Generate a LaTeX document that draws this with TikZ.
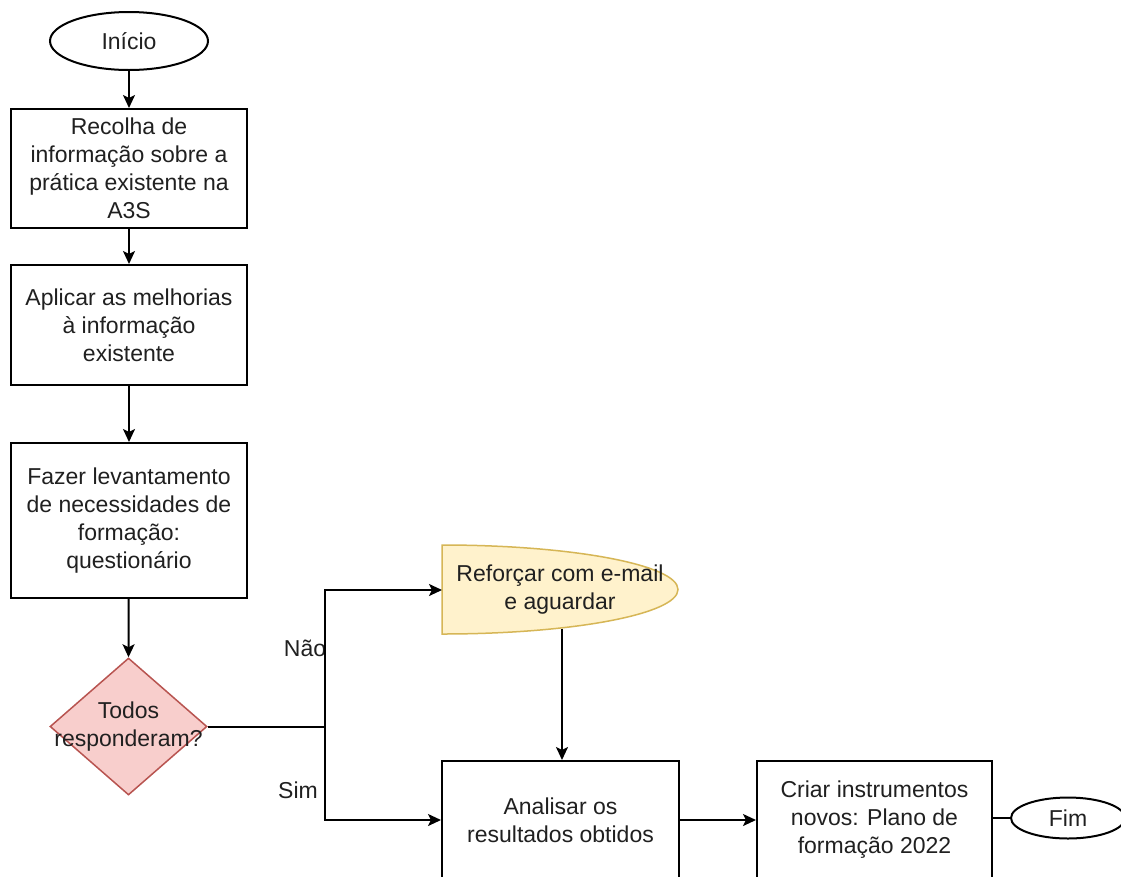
\documentclass[tikz,border=0pt]{standalone}
\usepackage{fontspec}
\setmainfont{Liberation Sans}
\usetikzlibrary{shapes.geometric,arrows.meta}
\definecolor{txt}{HTML}{202020}
\definecolor{redfill}{HTML}{F8CECC}
\definecolor{redline}{HTML}{B85450}
\definecolor{yelfill}{HTML}{FFF2CC}
\definecolor{yelline}{HTML}{D6B656}
\tikzset{
  base/.style={line width=2pt, draw=black, text=txt, font=\fontsize{23}{28}\selectfont, align=center, inner sep=0pt},
  procbox/.style={base, rectangle, fill=white},
  term/.style={base, ellipse, fill=white},
  lbl/.style={text=txt, font=\fontsize{23}{28}\selectfont, align=center, inner sep=0pt},
  conn/.style={line width=2pt, draw=black},
  arr/.style={conn, -{Stealth[length=13pt,width=12pt,inset=3pt]}},
}
\begin{document}
\begin{tikzpicture}[x=1pt,y=-1pt]
\clip (0,0) rectangle (1121,876);
\fill[white] (0,0) rectangle (1121,876);

% nodes
\node[term, minimum width=158pt, minimum height=58pt] (inicio) at (129,41) {Início};
\node[procbox, minimum width=236pt, minimum height=119pt] (box1) at (129,168.5)
  {Recolha de\\informação sobre a\\prática existente na\\A3S};
\node[procbox, minimum width=236pt, minimum height=120pt] (box2) at (129,325)
  {Aplicar as melhorias\\à informação\\existente};
\node[procbox, minimum width=236pt, minimum height=155pt] (box3) at (129,520.5)
  {Fazer levantamento\\de necessidades de\\formação:\\questionário};
\node[base, diamond, fill=redfill, draw=redline, line width=1.5pt, minimum width=157pt, minimum height=137pt] (dec) at (128.5,726.5) {};
\node[lbl] (dectext) at (128.5,727) {Todos\\responderam?};

% delay shape
\draw[line width=1.5pt, draw=yelline, fill=yelfill]
  (442,634) -- (442,545) arc[start angle=90, end angle=-90, x radius=236pt, y radius=44.5pt] -- cycle;
\node[lbl] (reforcar) at (560,590) {Reforçar com e-mail\\e aguardar};
\coordinate (refL) at (442,590);
\coordinate (refB) at (562,629);

\node[procbox, minimum width=237pt, minimum height=118pt] (analisar) at (560.5,820)
  {Analisar os\\resultados obtidos};
\node[procbox, minimum width=235pt, minimum height=118pt] (criar) at (874.5,820)
  {Criar instrumentos\\novos: Plano de\\formação 2022};
\node[term, minimum width=114pt, minimum height=41pt] (fim) at (1068,818) {Fim};

% labels
\node[lbl] (nao) at (305,648) {Não};
\node[lbl] (sim) at (298,790) {Sim};

% connectors
\coordinate (split) at (325,726.5);
\draw[arr] (inicio) -- (box1);
\draw[arr] (box1) -- (box2);
\draw[arr] (box2) -- (box3);
\draw[arr] (box3) -- (dec.north);
\draw[conn] (dec.east) -- (split);
\draw[arr] (split) |- (refL);
\draw[arr] (split) |- (analisar.west);
\draw[arr] (refB) -- (refB |- analisar.north);
\draw[arr] (analisar.east) -- (criar.west);
\draw[conn] (criar.east |- fim.west) -- (fim.west);
\end{tikzpicture}
\end{document}
